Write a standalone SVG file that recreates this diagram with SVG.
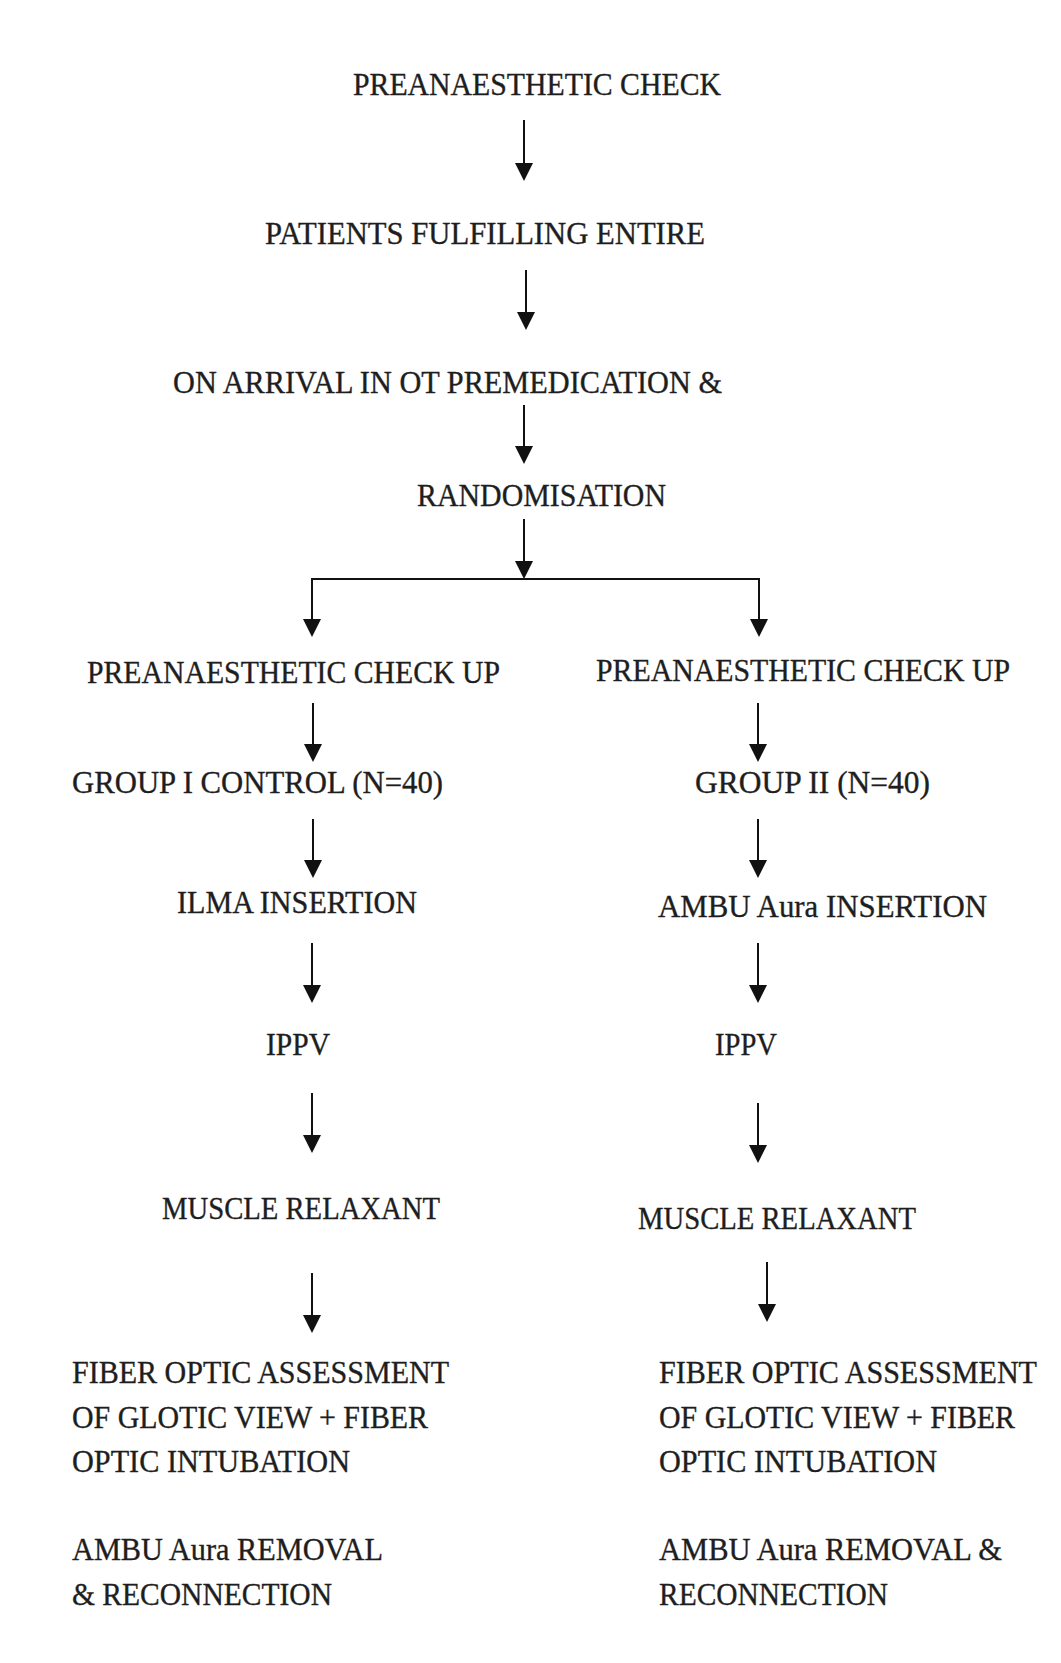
<svg xmlns="http://www.w3.org/2000/svg" width="1061" height="1663" viewBox="0 0 1061 1663">
<style>
.t{font-family:"Liberation Serif","DejaVu Serif",serif;font-size:32px;fill:#1e1e1e;stroke:#1e1e1e;stroke-width:0.35}
.c{fill:none;stroke:#111;stroke-width:2}
</style>
<defs>
<marker id="ah" markerUnits="userSpaceOnUse" markerWidth="18" markerHeight="18" refX="8" refY="9" orient="auto">
<path d="M0,0 L18,9 L0,18 z" fill="#111"/>
</marker>
</defs>
<rect width="1061" height="1663" fill="#fff"/>
<g id="connectors">
<path class="c" marker-end="url(#ah)" d="M524 120 V171"/>
<path class="c" marker-end="url(#ah)" d="M526 270 V320"/>
<path class="c" marker-end="url(#ah)" d="M524 405 V454"/>
<path class="c" marker-end="url(#ah)" d="M524 519 V569"/>
<path class="c" marker-end="url(#ah)" d="M524 579 H312 V627"/>
<path class="c" marker-end="url(#ah)" d="M524 579 H759 V627"/>
<path class="c" marker-end="url(#ah)" d="M313 703 V752"/>
<path class="c" marker-end="url(#ah)" d="M313 819 V868"/>
<path class="c" marker-end="url(#ah)" d="M312 943 V993"/>
<path class="c" marker-end="url(#ah)" d="M312 1093 V1143"/>
<path class="c" marker-end="url(#ah)" d="M312 1273 V1323"/>
<path class="c" marker-end="url(#ah)" d="M758 703 V752"/>
<path class="c" marker-end="url(#ah)" d="M758 819 V868"/>
<path class="c" marker-end="url(#ah)" d="M758 943 V993"/>
<path class="c" marker-end="url(#ah)" d="M758 1103 V1153"/>
<path class="c" marker-end="url(#ah)" d="M767 1262 V1312"/>
</g>
<g id="n1"><text class="t" x="353" y="95" textLength="368" lengthAdjust="spacingAndGlyphs">PREANAESTHETIC CHECK</text></g>
<g id="n2"><text class="t" x="265" y="244" textLength="440" lengthAdjust="spacingAndGlyphs">PATIENTS FULFILLING ENTIRE</text></g>
<g id="n3"><text class="t" x="173" y="393" textLength="549" lengthAdjust="spacingAndGlyphs">ON ARRIVAL IN OT PREMEDICATION &amp;</text></g>
<g id="n4"><text class="t" x="417" y="506" textLength="249" lengthAdjust="spacingAndGlyphs">RANDOMISATION</text></g>
<g id="l1"><text class="t" x="87" y="683" textLength="413" lengthAdjust="spacingAndGlyphs">PREANAESTHETIC CHECK UP</text></g>
<g id="r1"><text class="t" x="596" y="681" textLength="414" lengthAdjust="spacingAndGlyphs">PREANAESTHETIC CHECK UP</text></g>
<g id="l2"><text class="t" x="72" y="793" textLength="371" lengthAdjust="spacingAndGlyphs">GROUP I CONTROL (N=40)</text></g>
<g id="r2"><text class="t" x="695" y="793" textLength="235" lengthAdjust="spacingAndGlyphs">GROUP II (N=40)</text></g>
<g id="l3"><text class="t" x="177" y="913" textLength="240" lengthAdjust="spacingAndGlyphs">ILMA INSERTION</text></g>
<g id="r3"><text class="t" x="658" y="917" textLength="329" lengthAdjust="spacingAndGlyphs">AMBU Aura INSERTION</text></g>
<g id="l4"><text class="t" x="266" y="1055" textLength="64" lengthAdjust="spacingAndGlyphs">IPPV</text></g>
<g id="r4"><text class="t" x="715" y="1055" textLength="62" lengthAdjust="spacingAndGlyphs">IPPV</text></g>
<g id="l5"><text class="t" x="162" y="1219" textLength="278" lengthAdjust="spacingAndGlyphs">MUSCLE RELAXANT</text></g>
<g id="r5"><text class="t" x="638" y="1229" textLength="278" lengthAdjust="spacingAndGlyphs">MUSCLE RELAXANT</text></g>
<g id="l6">
<text class="t" x="72" y="1383" textLength="377" lengthAdjust="spacingAndGlyphs">FIBER OPTIC ASSESSMENT</text>
<text class="t" x="72" y="1428" textLength="356" lengthAdjust="spacingAndGlyphs">OF GLOTIC VIEW + FIBER</text>
<text class="t" x="72" y="1472" textLength="278" lengthAdjust="spacingAndGlyphs">OPTIC INTUBATION</text>
</g>
<g id="r6">
<text class="t" x="659" y="1383" textLength="378" lengthAdjust="spacingAndGlyphs">FIBER OPTIC ASSESSMENT</text>
<text class="t" x="659" y="1428" textLength="356" lengthAdjust="spacingAndGlyphs">OF GLOTIC VIEW + FIBER</text>
<text class="t" x="659" y="1472" textLength="278" lengthAdjust="spacingAndGlyphs">OPTIC INTUBATION</text>
</g>
<g id="l7">
<text class="t" x="72" y="1560" textLength="311" lengthAdjust="spacingAndGlyphs">AMBU Aura REMOVAL</text>
<text class="t" x="72" y="1605" textLength="260" lengthAdjust="spacingAndGlyphs">&amp; RECONNECTION</text>
</g>
<g id="r7">
<text class="t" x="659" y="1560" textLength="343" lengthAdjust="spacingAndGlyphs">AMBU Aura REMOVAL &amp;</text>
<text class="t" x="659" y="1605" textLength="229" lengthAdjust="spacingAndGlyphs">RECONNECTION</text>
</g>
</svg>
